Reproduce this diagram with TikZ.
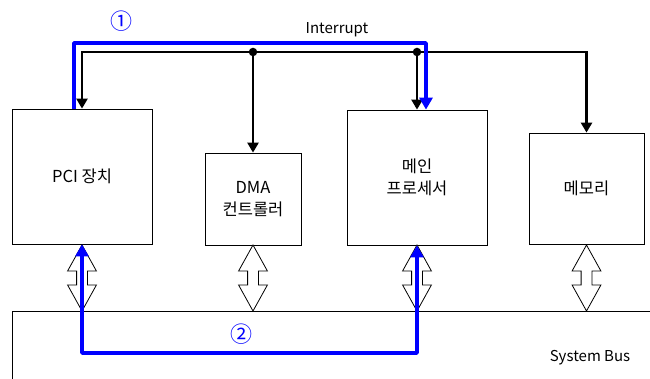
\documentclass[tikz,border=0pt]{standalone}
\usepackage{fontspec}
\setmainfont{Noto Sans CJK KR}
\usepackage{tikz}
\usetikzlibrary{
	shapes.arrows,
	arrows.meta,
	positioning
}

\begin{document}
\begin{tikzpicture}[
				x=1pt, y=-1pt,
				unit/.style={
					rectangle, draw, line width=0.8pt,
					align=center, font=\fontsize{16.5}{22}\selectfont
				},
				busport/.style={
					double arrow, draw, fill=white, line width=0.8pt,
					rotate=90, inner xsep=0pt, inner ysep=5pt,
					double arrow head extend=9pt, double arrow tip angle=58,
					minimum height=66pt
				},
				label/.style={font=\fontsize{15}{17}\selectfont},
				stepno/.style={font=\fontsize{22}{22}\selectfont, text=blue},
				tap/.style={circle, fill=black, inner sep=0pt, minimum size=8.5pt},
				irq/.style={line width=2.7pt, black},
				flow/.style={line width=3.5pt, blue, line join=round},
				tip/.style={-{Triangle[length=10pt,width=11pt]}},
				bluetip/.style={-{Triangle[length=12pt,width=13pt]}}
				]
				\useasboundingbox (0,0) rectangle (650,379);
				
				% PCI device
				\node[unit, minimum width=140pt, minimum height=135pt] (pci) at (82,176.5) {PCI 장치};
				
				% DMA controller
				\node[unit, minimum width=96pt, minimum height=92pt] (dma) at (253,199) {DMA\\컨트롤러};
				
				% main processor
				\node[unit, minimum width=140pt, minimum height=135pt] (cpu) at (417,177.5) {메인\\프로세서};
				
				% memory
				\node[unit, minimum width=115pt, minimum height=111pt] (mem) at (586.5,188.5) {메모리};
				
				% system bus (open to the right and below)
				\node[inner sep=0pt, minimum width=638pt, minimum height=68pt, anchor=north west] (bus) at (12,311) {};
				\draw[line width=0.8pt] (bus.south west) -- (bus.north west) -- (bus.north east);
				\node[label] (buslabel) at (590,358) {System Bus};
				
				% levels of the horizontal lines
				\coordinate (irqlevel) at (0,52);
				\coordinate (flowlevel) at (0,43);
				\coordinate (retlevel) at (0,353);
				
				% interrupt line
				\node[label] (irqlabel) at (337,30) {Interrupt};
				\node[tap] (dmatap) at (dma.north |- irqlevel) {};
				\node[tap] (cputap) at (cpu.north |- irqlevel) {};
				\draw[irq, {Triangle[length=10pt,width=11pt]}-{Triangle[length=10pt,width=11pt]}]
					(pci.north) -- (pci.north |- irqlevel) -- (mem.north |- irqlevel) -- (mem.north);
				\draw[irq, tip] (dmatap.center) -- (dma.north);
				\draw[irq, tip] (cputap.center) -- (cpu.north);
				
				% bus ports
				\node[busport] (pciport) at (pci.south |- 0,278) {};
				\node[busport] (dmaport) at (dma.south |- 0,278) {};
				\node[busport] (cpuport) at (cpu.south |- 0,278) {};
				\node[busport] (memport) at (mem.south |- 0,278) {};
				
				% step 1: interrupt request
				\coordinate (pciout) at ([xshift=-8pt]pci.north);
				\coordinate (cpuin) at ([xshift=9pt]cpu.north);
				\node[stepno] (step1) at (121,21) {①};
				\draw[flow, bluetip] (pciout) -- (pciout |- flowlevel) -- (cpuin |- flowlevel) -- (cpuin);
				
				% step 2: transfer over the bus
				\node[stepno] (step2) at (241,334) {②};
				\draw[flow, {Triangle[length=12pt,width=13pt]}-{Triangle[length=12pt,width=13pt]}]
					(pci.south) -- (pci.south |- retlevel) -- (cpu.south |- retlevel) -- (cpu.south);
\end{tikzpicture}
\end{document}
